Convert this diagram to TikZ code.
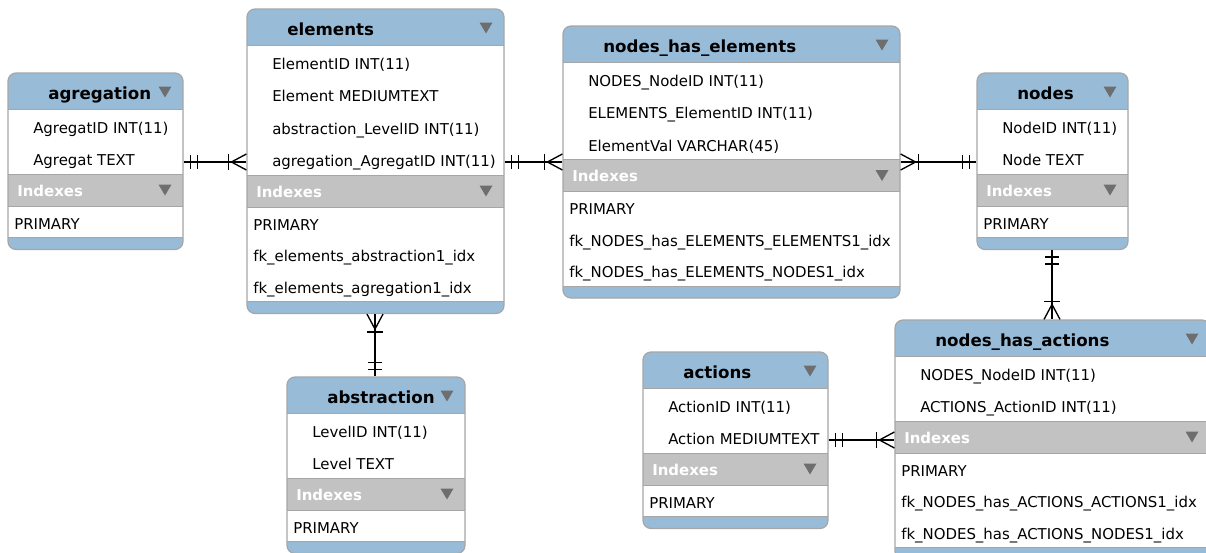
\documentclass[tikz,border=0pt]{standalone}
\usepackage{fontspec}
\setmainfont{DejaVu Sans}
\usepackage{tikz}
\usetikzlibrary{calc,fit}
\definecolor{headblue}{HTML}{98BCD8}
\definecolor{idxgray}{HTML}{C2C2C2}
\definecolor{framegray}{HTML}{A6A6A6}
\definecolor{trigray}{HTML}{6E6E6E}
\newcommand{\headcolor}{headblue}
\newcommand{\indexcolor}{idxgray}
\newcommand{\linecolor}{framegray}
\newcommand{\tricolor}{trigray}
% small triangle of a header or of an index band
\newcommand{\tri}[2]{\fill[\tricolor] (#1-6.5,#2-5.5) -- (#1+6.5,#2-5.5) -- (#1,#2+5.5) -- cycle;}
% one and only one, #2 = direction away from the table
\newcommand{\oneh}[2]{\draw[link] ($(#1)+(#2*7,-7)$) -- ++(0,14);
\draw[link] ($(#1)+(#2*14,-7)$) -- ++(0,14);}
\newcommand{\onev}[2]{\draw[link] ($(#1)+(-7,#2*7)$) -- ++(14,0);
\draw[link] ($(#1)+(-7,#2*14)$) -- ++(14,0);}
% one or many
\newcommand{\manyh}[2]{\draw[link] ($(#1)+(#2*18,-8)$) -- ++(0,16);
\draw[link] ($(#1)+(0,-8)$) -- ($(#1)+(#2*15,0)$) -- ($(#1)+(0,8)$);}
\newcommand{\manyv}[2]{\draw[link] ($(#1)+(-8,#2*18)$) -- ++(16,0);
\draw[link] ($(#1)+(-8,0)$) -- ($(#1)+(0,#2*15)$) -- ($(#1)+(8,0)$);}

\begin{document}
\begin{tikzpicture}[x=0.75pt, y=-0.75pt,
  field/.style={anchor=base west, inner sep=0pt, font=\fontsize{11.2}{13}\selectfont},
  head/.style={anchor=base west, inner sep=0pt, font=\fontsize{12.5}{15}\selectfont\bfseries},
  idxhead/.style={anchor=base west, inner sep=0pt, text=white, font=\fontsize{11.2}{13}\selectfont\bfseries},
  frame/.style={draw=\linecolor, rounded corners=6pt, inner sep=0pt, line width=0.9pt},
  link/.style={line width=1pt}]
\clip (0,0) rectangle (1206,553);
%agregation
\fill[\headcolor, rounded corners=6pt] (8,73) rectangle (183,249.5);
\fill[white] (8,109) rectangle (183,174);
\fill[\indexcolor] (8,174) rectangle (183,206);
\fill[white] (8,206) rectangle (183,237.5);
\draw[\linecolor] (8,109) -- (183,109) (8,174) -- (183,174) (8,206) -- (183,206) (8,237.5) -- (183,237.5);
\node[frame, fit={(8,73) (183,249.5)}] (agregation) {};
\node[head] (agregationhead) at (48,99.5) {agregation};
\tri{165}{92}
\node[field] (agregatid) at (33,133) {AgregatID INT(11)};
\node[field] (agregat) at (33,165.5) {Agregat TEXT};
\node[idxhead] (agregationidx) at (17,196) {Indexes};
\tri{165}{190}
\node[field] (agregationprimary) at (14,229) {PRIMARY};
%elements
\fill[\headcolor, rounded corners=6pt] (247,9) rectangle (504,313.5);
\fill[white] (247,45) rectangle (504,175);
\fill[\indexcolor] (247,175) rectangle (504,207);
\fill[white] (247,207) rectangle (504,301.5);
\draw[\linecolor] (247,45) -- (504,45) (247,175) -- (504,175) (247,207) -- (504,207) (247,301.5) -- (504,301.5);
\node[frame, fit={(247,9) (504,313.5)}] (elements) {};
\node[head] (elementshead) at (287,35.5) {elements};
\tri{486}{28}
\node[field] (elementid) at (272,69) {ElementID INT(11)};
\node[field] (element) at (272,101.5) {Element MEDIUMTEXT};
\node[field] (levelref) at (272,134) {abstraction\_LevelID INT(11)};
\node[field] (agregatref) at (272,166.5) {agregation\_AgregatID INT(11)};
\node[idxhead] (elementsidx) at (256,197) {Indexes};
\tri{486}{191}
\node[field] (elementsprimary) at (253,230) {PRIMARY};
\node[field] (fkabstraction) at (253,261.5) {fk\_elements\_abstraction1\_idx};
\node[field] (fkagregation) at (253,293) {fk\_elements\_agregation1\_idx};
%nodes_has_elements
\fill[\headcolor, rounded corners=6pt] (563,26) rectangle (900,298);
\fill[white] (563,62) rectangle (900,159.5);
\fill[\indexcolor] (563,159.5) rectangle (900,191.5);
\fill[white] (563,191.5) rectangle (900,286);
\draw[\linecolor] (563,62) -- (900,62) (563,159.5) -- (900,159.5) (563,191.5) -- (900,191.5) (563,286) -- (900,286);
\node[frame, fit={(563,26) (900,298)}] (nhe) {};
\node[head] (nhehead) at (603,52.5) {nodes\_has\_elements};
\tri{882}{45}
\node[field] (nhenode) at (588,86) {NODES\_NodeID INT(11)};
\node[field] (nheelement) at (588,118.5) {ELEMENTS\_ElementID INT(11)};
\node[field] (elementval) at (588,151) {ElementVal VARCHAR(45)};
\node[idxhead] (nheidx) at (572,181.5) {Indexes};
\tri{882}{175.5}
\node[field] (nheprimary) at (569,214.5) {PRIMARY};
\node[field] (fknheelements) at (569,246) {fk\_NODES\_has\_ELEMENTS\_ELEMENTS1\_idx};
\node[field] (fknhenodes) at (569,277.5) {fk\_NODES\_has\_ELEMENTS\_NODES1\_idx};
%nodes
\fill[\headcolor, rounded corners=6pt] (977,73) rectangle (1128,249.5);
\fill[white] (977,109) rectangle (1128,174);
\fill[\indexcolor] (977,174) rectangle (1128,206);
\fill[white] (977,206) rectangle (1128,237.5);
\draw[\linecolor] (977,109) -- (1128,109) (977,174) -- (1128,174) (977,206) -- (1128,206) (977,237.5) -- (1128,237.5);
\node[frame, fit={(977,73) (1128,249.5)}] (nodes) {};
\node[head] (nodeshead) at (1017,99.5) {nodes};
\tri{1110}{92}
\node[field] (nodeid) at (1002,133) {NodeID INT(11)};
\node[field] (node) at (1002,165.5) {Node TEXT};
\node[idxhead] (nodesidx) at (986,196) {Indexes};
\tri{1110}{190}
\node[field] (nodesprimary) at (983,229) {PRIMARY};
%abstraction
\fill[\headcolor, rounded corners=6pt] (287,377) rectangle (465,553.5);
\fill[white] (287,413) rectangle (465,478);
\fill[\indexcolor] (287,478) rectangle (465,510);
\fill[white] (287,510) rectangle (465,541.5);
\draw[\linecolor] (287,413) -- (465,413) (287,478) -- (465,478) (287,510) -- (465,510) (287,541.5) -- (465,541.5);
\node[frame, fit={(287,377) (465,553.5)}] (abstraction) {};
\node[head] (abstractionhead) at (327,403.5) {abstraction};
\tri{447}{396}
\node[field] (levelid) at (312,437) {LevelID INT(11)};
\node[field] (level) at (312,469.5) {Level TEXT};
\node[idxhead] (abstractionidx) at (296,500) {Indexes};
\tri{447}{494}
\node[field] (abstractionprimary) at (293,533) {PRIMARY};
%actions
\fill[\headcolor, rounded corners=6pt] (643,352) rectangle (828,528.5);
\fill[white] (643,388) rectangle (828,453);
\fill[\indexcolor] (643,453) rectangle (828,485);
\fill[white] (643,485) rectangle (828,516.5);
\draw[\linecolor] (643,388) -- (828,388) (643,453) -- (828,453) (643,485) -- (828,485) (643,516.5) -- (828,516.5);
\node[frame, fit={(643,352) (828,528.5)}] (actions) {};
\node[head] (actionshead) at (683,378.5) {actions};
\tri{810}{371}
\node[field] (actionid) at (668,412) {ActionID INT(11)};
\node[field] (action) at (668,444.5) {Action MEDIUMTEXT};
\node[idxhead] (actionsidx) at (652,475) {Indexes};
\tri{810}{469}
\node[field] (actionsprimary) at (649,508) {PRIMARY};
%nodes_has_actions
\fill[\headcolor, rounded corners=6pt] (895,320) rectangle (1210,559.5);
\fill[white] (895,356) rectangle (1210,421);
\fill[\indexcolor] (895,421) rectangle (1210,453);
\fill[white] (895,453) rectangle (1210,547.5);
\draw[\linecolor] (895,356) -- (1210,356) (895,421) -- (1210,421) (895,453) -- (1210,453) (895,547.5) -- (1210,547.5);
\node[frame, fit={(895,320) (1210,559.5)}] (nha) {};
\node[head] (nhahead) at (935,346.5) {nodes\_has\_actions};
\tri{1192}{339}
\node[field] (nhanode) at (920,380) {NODES\_NodeID INT(11)};
\node[field] (nhaaction) at (920,412.5) {ACTIONS\_ActionID INT(11)};
\node[idxhead] (nhaidx) at (904,443) {Indexes};
\tri{1192}{437}
\node[field] (nhaprimary) at (901,476) {PRIMARY};
\node[field] (fknhaactions) at (901,507.5) {fk\_NODES\_has\_ACTIONS\_ACTIONS1\_idx};
\node[field] (fknhanodes) at (901,539) {fk\_NODES\_has\_ACTIONS\_NODES1\_idx};
%relations
\coordinate (c1) at (0,162);
\coordinate (c2) at (375,0);
\coordinate (c3) at (1052,0);
\coordinate (c4) at (0,440);
\draw[link] (agregation.east |- c1) coordinate (r1a) -- (elements.west |- c1) coordinate (r1b);
\oneh{r1a}{1} \manyh{r1b}{-1}
\draw[link] (elements.east |- c1) coordinate (r2a) -- (nhe.west |- c1) coordinate (r2b);
\oneh{r2a}{1} \manyh{r2b}{-1}
\draw[link] (nhe.east |- c1) coordinate (r3a) -- (nodes.west |- c1) coordinate (r3b);
\manyh{r3a}{1} \oneh{r3b}{-1}
\draw[link] (elements.south -| c2) coordinate (r4a) -- (abstraction.north -| c2) coordinate (r4b);
\manyv{r4a}{1} \onev{r4b}{-1}
\draw[link] (nodes.south -| c3) coordinate (r5a) -- (nha.north -| c3) coordinate (r5b);
\onev{r5a}{1} \manyv{r5b}{-1}
\draw[link] (actions.east |- c4) coordinate (r6a) -- (nha.west |- c4) coordinate (r6b);
\oneh{r6a}{1} \manyh{r6b}{-1}
\end{tikzpicture}
\end{document}
